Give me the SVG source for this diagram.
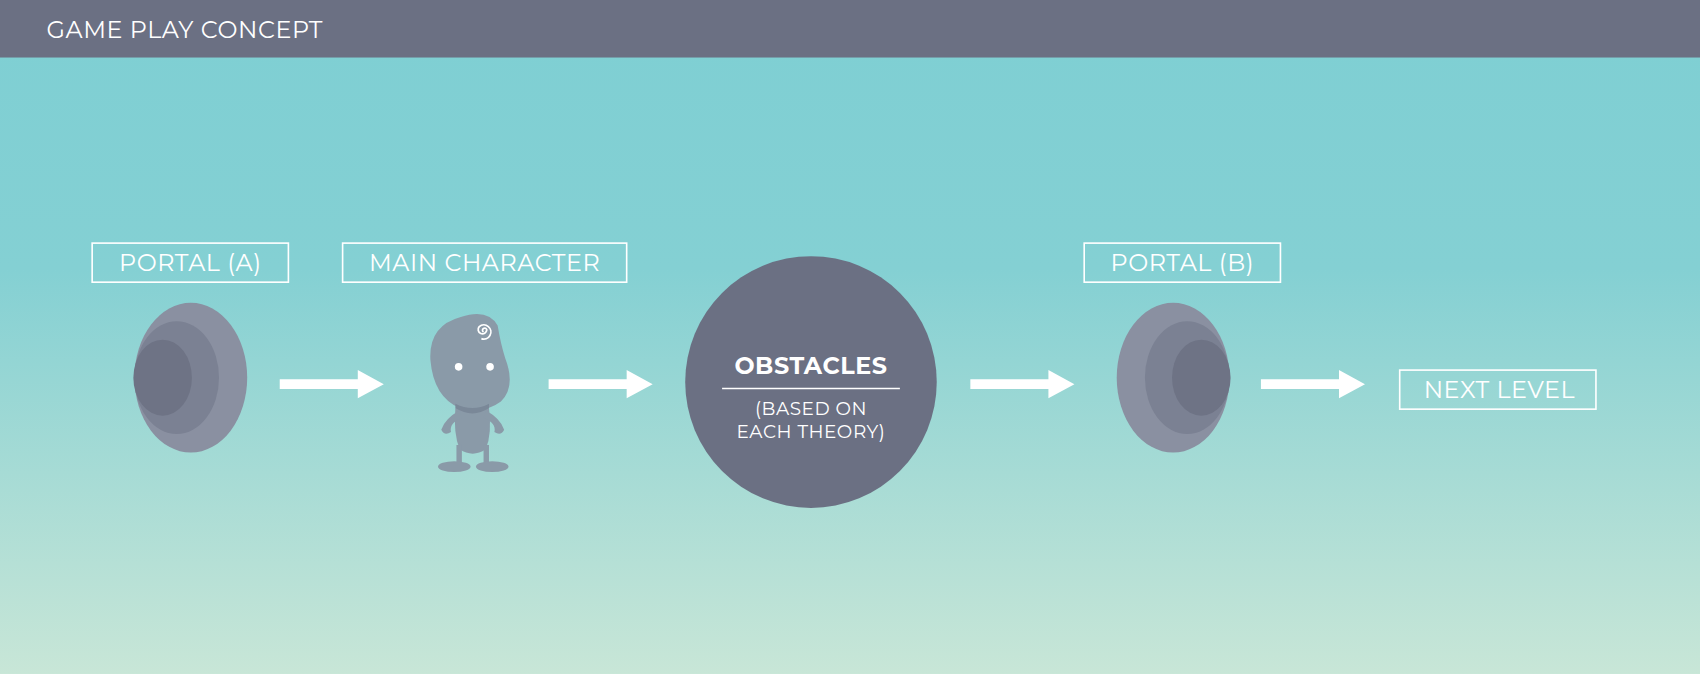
<svg xmlns="http://www.w3.org/2000/svg" width="1700" height="674" viewBox="0 0 1700 674">
<defs>
<linearGradient id="bg" x1="0" y1="0" x2="0" y2="1">
<stop offset="0" stop-color="#7ecfd3"/><stop offset="0.4" stop-color="#84d0d3"/><stop offset="1" stop-color="#c8e6d7"/>
</linearGradient>
<path id="arr" d="M0,-4.5 H72 V-13 L96,0 L72,13 V4.5 H0 Z" fill="#fff"/>
</defs>
<style>
.t{font-family:"Montserrat","Open Sans","Liberation Sans",sans-serif;fill:#fff;letter-spacing:0.5px}
.box{fill:none;stroke:#fff;stroke-width:1.5}
</style>
<g transform="scale(1.0842,1.0853)">
<rect x="0" y="0" width="1568" height="621" fill="url(#bg)"/>
<rect x="0" y="0" width="1568" height="53" fill="#6b7083"/>
<text class="t" x="43" y="35" font-size="22">GAME PLAY CONCEPT</text>
<g id="portal-a">
<rect class="box" x="85" y="224" width="181" height="36"/>
<text class="t" x="175.5" y="250" font-size="22" text-anchor="middle">PORTAL (A)</text>
<ellipse cx="176" cy="348" rx="52" ry="69" fill="#8a90a1"/>
<ellipse cx="163" cy="348" rx="39" ry="52" fill="#7b8193"/>
<ellipse cx="150" cy="348" rx="27" ry="35" fill="#6e7385"/>
</g>
<g id="main-character">
<rect class="box" x="316" y="224" width="262" height="36"/>
<text class="t" x="447" y="250" font-size="22" text-anchor="middle">MAIN CHARACTER</text>
<g fill="#8a9aa8">
<path d="M420,376 Q418,400 424,414 Q436,422 448,414 Q454,400 451,376 Z"/>
<path d="M424,378 Q410,386 407,396 Q410,402 416,398 Q414,390 426,385 Z"/>
<path d="M448,378 Q462,386 465,396 Q462,402 456,398 Q458,390 446,385 Z"/>
<rect x="421" y="410" width="5" height="20"/>
<rect x="446" y="410" width="5" height="20"/>
<ellipse cx="419" cy="430" rx="15" ry="5"/>
<ellipse cx="454" cy="430" rx="15" ry="5"/>
<path d="M397,332 Q395,300 425,292 Q450,284 459,300 Q462,318 466,330 Q476,356 462,370 Q446,382 424,376 Q400,366 397,332 Z"/>
</g>
<path d="M420,376 Q436,386 451,376 L451,372 Q436,380 420,372 Z" fill="#7a8898"/>
<circle cx="423" cy="338" r="3.5" fill="#fff"/>
<circle cx="452" cy="338" r="3.5" fill="#fff"/>
<path d="M446,306 a2,2 0 1 1 3,-2 a4,4 0 1 1 -7,-3 a6.5,6.5 0 1 1 2,11" fill="none" stroke="#fff" stroke-width="1.6"/>
</g>
<g id="obstacles">
<circle cx="748" cy="352" r="116" fill="#6b7083"/>
<text class="t" x="748" y="345" font-size="22" font-weight="bold" text-anchor="middle">OBSTACLES</text>
<line x1="666" y1="358" x2="830" y2="358" stroke="#fff" stroke-width="1.5"/>
<text class="t" x="748" y="382" font-size="17" text-anchor="middle">(BASED ON</text>
<text class="t" x="748" y="404" font-size="17" text-anchor="middle">EACH THEORY)</text>
</g>
<g id="portal-b">
<rect class="box" x="1000" y="224" width="181" height="36"/>
<text class="t" x="1090.5" y="250" font-size="22" text-anchor="middle">PORTAL (B)</text>
<ellipse cx="1082" cy="348" rx="52" ry="69" fill="#8a90a1"/>
<ellipse cx="1095" cy="348" rx="39" ry="52" fill="#7b8193"/>
<ellipse cx="1108" cy="348" rx="27" ry="35" fill="#6e7385"/>
</g>
<g id="next-level">
<rect class="box" x="1291" y="341" width="181" height="36"/>
<text class="t" x="1383" y="367" font-size="22" text-anchor="middle">NEXT LEVEL</text>
</g>
<g id="connectors">
<use href="#arr" x="258" y="354"/>
<use href="#arr" x="506" y="354"/>
<use href="#arr" x="895" y="354"/>
<use href="#arr" x="1163" y="354"/>
</g>
</g>
</svg>
